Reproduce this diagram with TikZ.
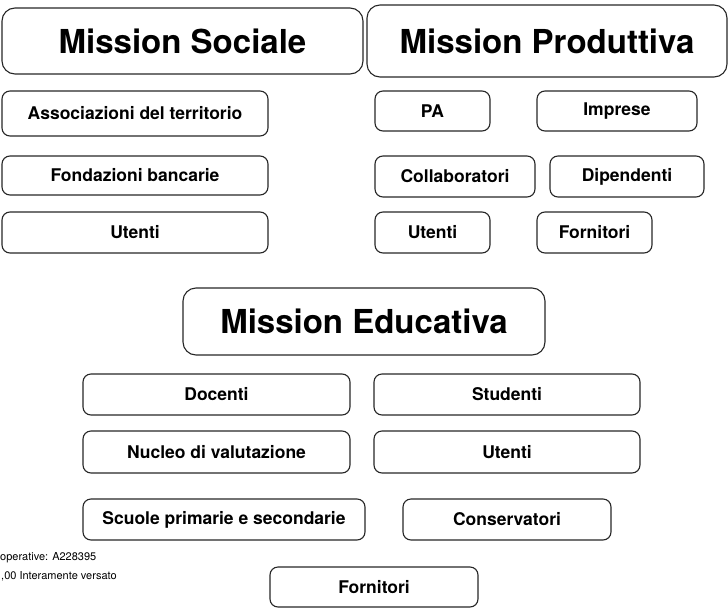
\documentclass[tikz,border=0pt]{standalone}
\usepackage{fontspec}
\setmainfont{TeX Gyre Heros}
\usepackage{tikz}

\begin{document}
\begin{tikzpicture}[x=1pt,y=-1pt,
  box/.style = {draw=black!85, line width=1.1pt, rounded corners=8pt, font=\bfseries\fontsize{17.5}{20}\selectfont, inner sep=0pt},
  title/.style = {box, rounded corners=13pt, font=\bfseries\fontsize{33}{38}\selectfont},
  note/.style = {font=\fontsize{11}{13}\selectfont, anchor=west, inner sep=0pt}]
\useasboundingbox (0,0) rectangle (728,608);
% Mission Sociale
\node[title, minimum width=361pt, minimum height=66pt] (sociale) at (182.5,41) {Mission Sociale};
\node[box, minimum width=266pt, minimum height=45pt] (assoc) at (135,113.5) {Associazioni del territorio};
\node[box, minimum width=266pt, minimum height=39pt] (fond) at (135,175.5) {Fondazioni bancarie};
\node[box, minimum width=266pt, minimum height=41pt] (utS) at (135,232.5) {Utenti};
% Mission Produttiva
\node[title, minimum width=360pt, minimum height=72pt] (produttiva) at (547,41) {Mission Produttiva};
\node[box, minimum width=115pt, minimum height=40pt] (pa) at (432.5,111) {PA};
\node[box, minimum width=160pt, minimum height=40pt] (impr) at (617,111) {Imprese};
\node[box, minimum width=160pt, minimum height=41pt] (coll) at (455,176.5) {Collaboratori};
\node[box, minimum width=154pt, minimum height=41pt] (dip) at (627,176.5) {Dipendenti};
\node[box, minimum width=115pt, minimum height=41pt] (utP) at (432.5,232.5) {Utenti};
\node[box, minimum width=115pt, minimum height=41pt] (fornP) at (594.5,232.5) {Fornitori};
% Mission Educativa
\node[title, minimum width=362pt, minimum height=67pt] (educativa) at (364,321.5) {Mission Educativa};
\node[box, minimum width=267pt, minimum height=41pt] (doc) at (216.5,394.5) {Docenti};
\node[box, minimum width=266pt, minimum height=41pt] (stud) at (507,394.5) {Studenti};
\node[box, minimum width=267pt, minimum height=42pt] (nucleo) at (216.5,452) {Nucleo di valutazione};
\node[box, minimum width=266pt, minimum height=42pt] (utE) at (507,452) {Utenti};
\node[box, minimum width=282pt, minimum height=41pt] (scuole) at (224,519.5) {Scuole primarie e secondarie};
\node[box, minimum width=208pt, minimum height=41pt] (cons) at (507,519.5) {Conservatori};
\node[box, minimum width=208pt, minimum height=40pt] (fornE) at (374,587) {Fornitori};
% testo tagliato a sinistra
\node[note] (coop) at (0,558) {operative: A228395};
\node[note] (capitale) at (1,576) {,00 Interamente versato};
\end{tikzpicture}
\end{document}
